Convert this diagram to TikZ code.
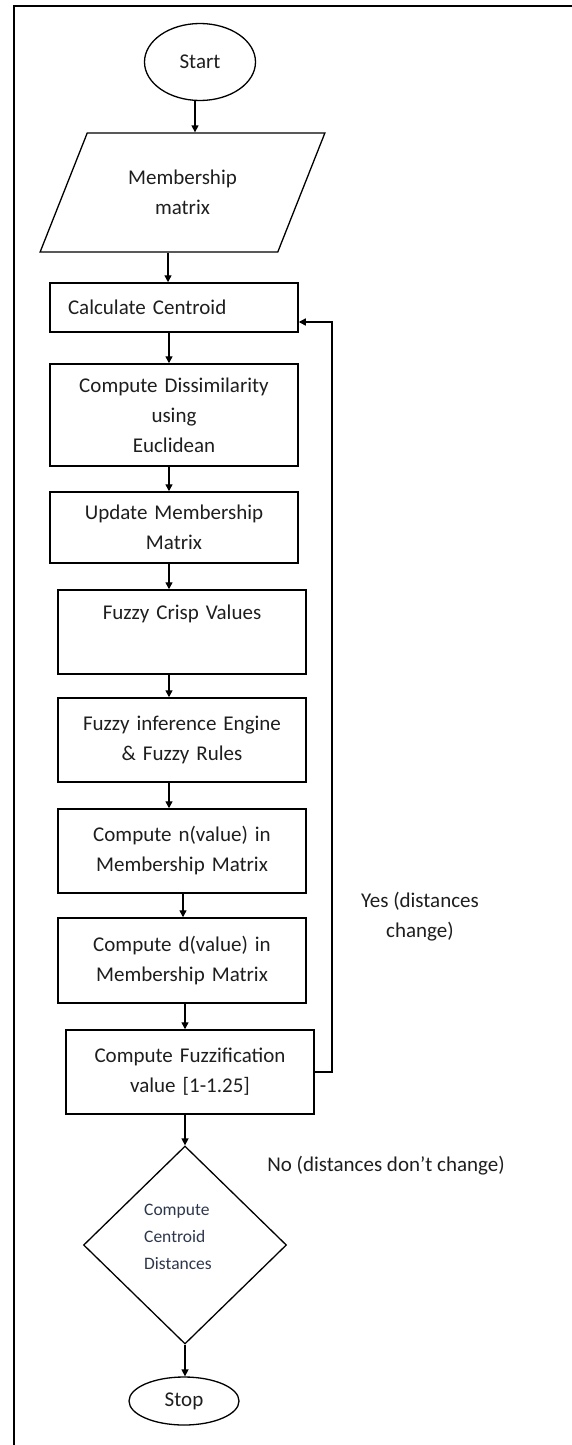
\documentclass[tikz,border=0pt]{standalone}
\usepackage{fontspec}
\setmainfont{Carlito}
\usetikzlibrary{shapes.geometric,arrows.meta,calc}
\definecolor{txt}{RGB}{30,30,30}
\definecolor{dtxt}{RGB}{45,55,75}
\begin{document}
\begin{tikzpicture}[x=1pt,y=-1pt,
  every node/.style={font=\fontsize{21}{30}\selectfont, text=txt},
  box/.style={draw=black, line width=1.5pt, rectangle, minimum width=248pt, inner sep=0pt, align=center, text width=240pt},
  term/.style={draw=black, ellipse, line width=1.3pt, inner sep=0pt},
  arr/.style={line width=1.4pt, -{Triangle[length=7pt,width=7pt]}},
  lab/.style={align=center}
]
\useasboundingbox (0,0) rectangle (572,1445);
\draw[line width=1.8pt] (14,1445) -- (14,6) -- (572,6);

\node[term, minimum width=111pt, minimum height=77pt] (start) at (200,62) {Start};
\node[draw=black, line width=1.3pt, trapezium, trapezium left angle=59, trapezium right angle=121,
      trapezium stretches=true, minimum width=285pt, minimum height=119pt, inner sep=0pt, align=center] (mm) at (182.5,192.5) {Membership\\matrix};

\node[box, align=left, text width=212pt, inner xsep=18pt, minimum height=49pt] (calc) at (174,307.5) {Calculate Centroid};
\node[box, minimum height=102pt] (diss) at (174,415) {Compute Dissimilarity\\using\\Euclidean};
\node[box, minimum height=71pt] (upd) at (174,527.5) {Update Membership\\Matrix};
\node[box, minimum height=84pt] (crisp) at (182,632) {Fuzzy Crisp Values\\\strut};
\node[box, minimum height=84pt] (inf) at (182,740) {Fuzzy inference Engine\\\& Fuzzy Rules};
\node[box, minimum height=84pt] (nv) at (182,851) {Compute n(value) in\\Membership Matrix};
\node[box, minimum height=85pt] (dv) at (182,960.5) {Compute d(value) in\\Membership Matrix};
\node[box, minimum height=84pt] (fz) at (190,1072) {Compute Fuzzification\\value [1-1.25]};

\node[draw=black, line width=1.3pt, diamond, minimum width=203pt, minimum height=198pt, inner sep=0pt] (dia) at (185,1245) {};
\node[align=left, text=dtxt, font=\fontsize{17.5}{27}\selectfont, inner sep=0pt] (dtext) at (178,1237) {Compute\\Centroid\\Distances};

\node[term, minimum width=110pt, minimum height=48pt] (stop) at (184,1401) {Stop};

\node[lab] (yes) at (420,917) {Yes (distances\\change)};
\node[lab] (no) at (386,1166) {No (distances don't change)};

\coordinate (lp) at (332,1070);

\draw[arr] ([xshift=-5pt]start.south) -- ([xshift=-5pt]start.south |- mm.north);
\draw[arr] ([xshift=-14.5pt]mm.south) -- ([xshift=-14.5pt]mm.south |- calc.north);
\draw[arr] ([xshift=-5pt]calc.south) -- ([xshift=-5pt]calc.south |- diss.north);
\draw[arr] ([xshift=-5pt]diss.south) -- ([xshift=-5pt]diss.south |- upd.north);
\draw[arr] ([xshift=-5pt]upd.south) -- ([xshift=-5pt]upd.south |- crisp.north);
\draw[arr] ([xshift=-13pt]crisp.south) -- ([xshift=-13pt]crisp.south |- inf.north);
\draw[arr] ([xshift=-13pt]inf.south) -- ([xshift=-13pt]inf.south |- nv.north);
\draw[arr] ([xshift=1pt]nv.south) -- ([xshift=1pt]nv.south |- dv.north);
\draw[arr] ([xshift=3pt]dv.south) -- ([xshift=3pt]dv.south |- fz.north);
\draw[arr] (fz.south -| dia.north) -- (dia.north);
\draw[arr] (dia.south) -- (dia.south |- stop.north);

\draw[arr] (fz.east) -- (fz.east -| lp) |- ([yshift=-14.5pt]calc.east);
\end{tikzpicture}
\end{document}
